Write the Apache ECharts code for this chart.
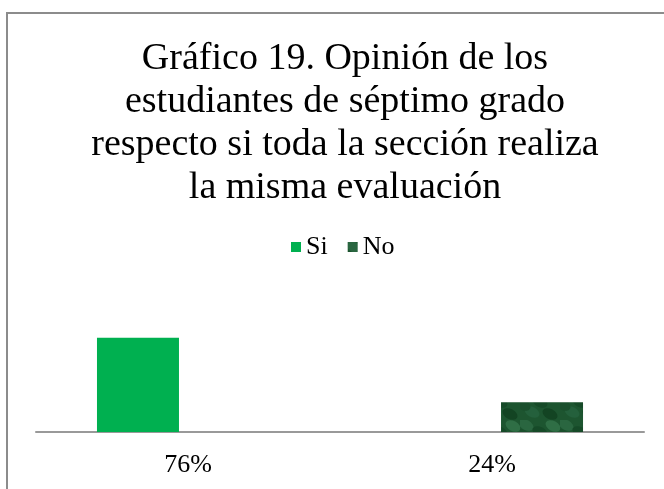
<!DOCTYPE html>
<html>
<head>
    <meta charset="utf-8">
    <title>Gráfico 19</title>
    <script src="https://cdn.jsdelivr.net/npm/echarts@6/dist/echarts.min.js"></script>
    <style>
        html, body { margin: 0; padding: 0; background: #fff; }
    </style>
</head>
<body>
    <div id="main" style="width: 664px;height:489px;"></div>
    <script type="text/javascript">
        // datos del gráfico
        var categorias = ['76%', '24%'];
        var valoresSi = [76, null];
        var valoresNo = [null, 24];
        var nombres = ['Si', 'No'];

        // textura verde oscuro para la serie "No"
        var tex = document.createElement('canvas');
        tex.width = 40; tex.height = 30;
        var c = tex.getContext('2d');
        c.fillStyle = '#1d5530';
        c.fillRect(0, 0, 40, 30);
        var manchas = [[6, 5, '#2a6640'], [20, 12, '#164a28'], [33, 6, '#2f6e45'], [12, 22, '#24603c'], [30, 24, '#134423'], [3, 15, '#1a4f2c']];
        manchas.forEach(function (m) {
            c.fillStyle = m[2];
            c.beginPath();
            c.ellipse(m[0], m[1], 8, 5, 0.5, 0, Math.PI * 2);
            c.fill();
        });

        var myChart = echarts.init(document.getElementById('main'));

        var option = {
            backgroundColor: '#fff',
            animation: false,
            textStyle: { fontFamily: 'Liberation Serif' },
            title: {
                text: 'Gráfico 19. Opinión de los\nestudiantes de séptimo grado\nrespecto si toda la sección realiza\nla misma evaluación',
                left: 340,
                top: 33,
                textAlign: 'center',
                textStyle: {
                    fontFamily: 'Liberation Serif',
                    fontWeight: 'normal',
                    fontSize: 38,
                    lineHeight: 43,
                    color: '#000'
                }
            },
            legend: {
                data: nombres,
                left: 286,
                top: 229,
                itemWidth: 10,
                itemHeight: 10,
                itemGap: 20,
                icon: 'rect',
                textStyle: { fontFamily: 'Liberation Serif', fontSize: 26, color: '#000' }
            },
            grid: {
                left: 36,
                right: 20,
                top: 308,
                bottom: 57
            },
            xAxis: {
                type: 'category',
                data: categorias,
                axisLine: { lineStyle: { color: '#999', width: 2 } },
                axisTick: { show: false },
                axisLabel: { fontFamily: 'Liberation Serif', fontSize: 26, color: '#000', margin: 20 }
            },
            yAxis: {
                type: 'value',
                min: 0,
                max: 100,
                show: false,
                splitLine: { show: false }
            },
            graphic: [{
                type: 'rect',
                shape: { x: 7, y: 13, width: 700, height: 520 },
                style: { fill: 'none', stroke: '#8c8c8c', lineWidth: 2 },
                silent: true
            }],
            series: [
                {
                    name: nombres[0],
                    type: 'bar',
                    data: valoresSi,
                    barWidth: 82,
                    barGap: '22%',
                    itemStyle: { color: '#00b050' }
                },
                {
                    name: nombres[1],
                    type: 'bar',
                    data: valoresNo,
                    barWidth: 82,
                    itemStyle: { color: { image: tex, repeat: 'repeat' } }
                }
            ]
        };

        myChart.setOption(option);
    </script>
</body>
</html>
